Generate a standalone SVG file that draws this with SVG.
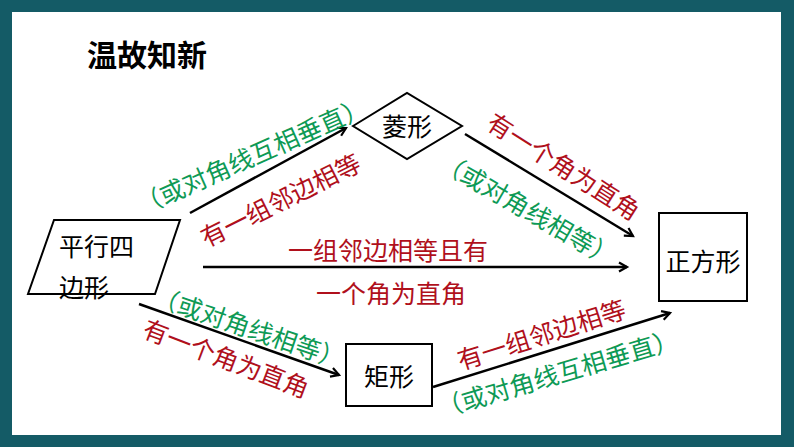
<svg xmlns="http://www.w3.org/2000/svg" width="794" height="447" viewBox="0 0 794 447">
<style>
.node{fill:#fff;stroke:#000;stroke-width:2}
.nt{font-family:"Noto Sans CJK SC","Noto Sans",sans-serif;font-size:25px;fill:#000;dominant-baseline:central}
.lbl{font-family:"Noto Sans CJK SC","Noto Sans",sans-serif;font-size:25px;text-anchor:middle;dominant-baseline:central}
.red{fill:#B0101C}
.green{fill:#0E9A55}
.edge{stroke:#000;stroke-width:2.5;fill:none;marker-end:url(#arr)}
</style>
<defs>
<marker id="arr" markerWidth="12" markerHeight="12" refX="9" refY="5" orient="auto" markerUnits="userSpaceOnUse" viewBox="0 0 12 10">
<path d="M1,0.5 L9,5 L1,9.5" fill="none" stroke="#000" stroke-width="2.2"/>
</marker>
</defs>
<rect x="0" y="0" width="794" height="447" fill="#145B66"/>
<rect x="12" y="12" width="769" height="423" fill="#fff"/>
<text x="87" y="53" style="font-family:'Noto Sans CJK SC',sans-serif;font-size:30px;font-weight:bold;dominant-baseline:central" fill="#000">温故知新</text>

<g id="connectors">
<line class="edge" x1="190" y1="213" x2="346" y2="128"/>
<line class="edge" x1="465" y1="134" x2="633" y2="236"/>
<line class="edge" x1="203" y1="267" x2="627" y2="267"/>
<line class="edge" x1="139" y1="304" x2="339" y2="375"/>
<line class="edge" x1="433" y1="387" x2="670" y2="313"/>
<text class="lbl green" transform="translate(253,158) rotate(-24)" y="-4">（或对角线互相垂直）</text>
<text class="lbl red" transform="translate(279,197) rotate(-26.6)" y="2">有一组邻边相等</text>
<text class="lbl red" transform="translate(564,166) rotate(32.5)" y="-1">有一个角为直角</text>
<text class="lbl green" transform="translate(529,207) rotate(30)" y="1">（或对角线相等）</text>
<text class="lbl red" x="388" y="249">一组邻边相等且有</text>
<text class="lbl red" x="391" y="292">一个角为直角</text>
<text class="lbl green" transform="translate(248,331) rotate(19)" y="-5">（或对角线相等）</text>
<text class="lbl red" transform="translate(227,356) rotate(20.8)" y="1">有一个角为直角</text>
<text class="lbl red" transform="translate(542,336) rotate(-17.6)" y="-3">有一组邻边相等</text>
<text class="lbl green" transform="translate(557,371) rotate(-16.4)" y="1">（或对角线互相垂直）</text>
</g>

<g id="parallelogram">
<polygon class="node" points="54,220 180,220 155,294 28,294"/>
<text class="nt" x="59" y="245">平行四</text>
<text class="nt" x="59" y="286">边形</text>
</g>
<g id="rhombus">
<polygon class="node" points="353,126 407,93 462,126 407,159"/>
<text class="nt" x="407" y="125" text-anchor="middle">菱形</text>
</g>
<g id="square">
<rect class="node" x="659" y="213" width="88" height="88"/>
<text class="nt" x="703" y="260" text-anchor="middle">正方形</text>
</g>
<g id="rectangle">
<rect class="node" x="346" y="344" width="86" height="62"/>
<text class="nt" x="389" y="375" text-anchor="middle">矩形</text>
</g>
</svg>
